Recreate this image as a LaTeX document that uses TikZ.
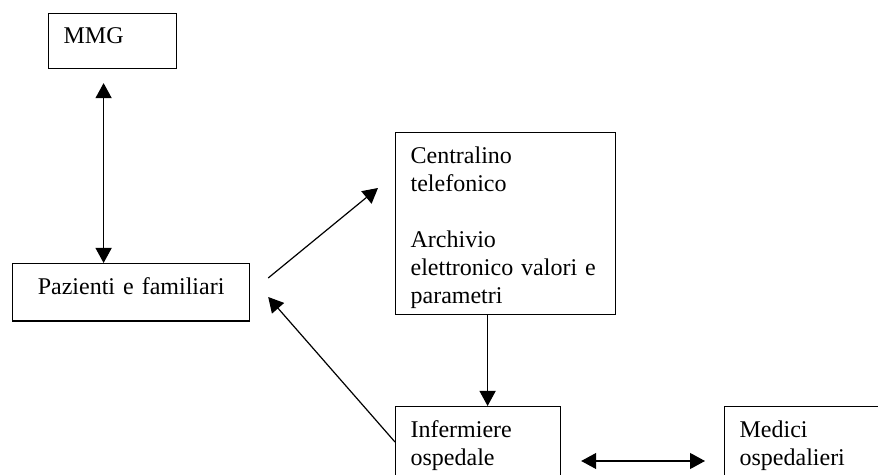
\documentclass[tikz,border=0pt]{standalone}
\usepackage{fontspec}
\setmainfont{Liberation Serif}
\usetikzlibrary{arrows.meta,positioning,calc}

\begin{document}
\begin{tikzpicture}[
    x=0.5pt, y=-0.5pt,
    >={Triangle[length=7.5pt,width=8pt]},
    font=\fontsize{12pt}{14pt}\selectfont,
    box/.style={draw, line width=0.6pt, anchor=north west, align=left,
                inner xsep=7.5pt, inner ysep=7pt},
    link/.style={line width=0.6pt},
  ]

\useasboundingbox (0,0) rectangle (878,475);

% boxes
\node[box, text width=49pt, text depth=5.5pt] (mmg) at (48,13) {MMG};
\node[box, text width=103.5pt, align=center, text depth=6.3pt] (paz)
  at (12,263) {Pazienti e familiari};
\node[box, text width=95pt, text depth=68.5pt] (cen) at (395,132)
  {Centralino\\telefonico\\[14pt]Archivio\\elettronico valori e\\parametri};
\node[box, text width=67.5pt] (inf) at (395,406) {Infermiere\\ospedale};
\node[box, text width=100pt] (med) at (724,406) {Medici\\ospedalieri};

% connectors
\draw[link, <->] ([shift={(-4.5pt,-7pt)}]mmg.south)
  -- ([xshift=-4.5pt]mmg.south |- paz.north);
\draw[link, ->] ([shift={(9pt,-7.5pt)}]paz.north east)
  -- ([shift={(-8.5pt,-28pt)}]cen.north west);
\draw[link, ->] ([xshift=-9pt]cen.south)
  -- ([xshift=-9pt]cen.south |- inf.north);
\draw[link, ->] ([yshift=-18pt]inf.north west)
  -- ([shift={(9pt,-17pt)}]paz.north east);
\draw[link, <->] ([shift={(10pt,-27.5pt)}]inf.north east)
  -- ([shift={(-9.5pt,-27.5pt)}]med.north west);

\end{tikzpicture}
\end{document}
